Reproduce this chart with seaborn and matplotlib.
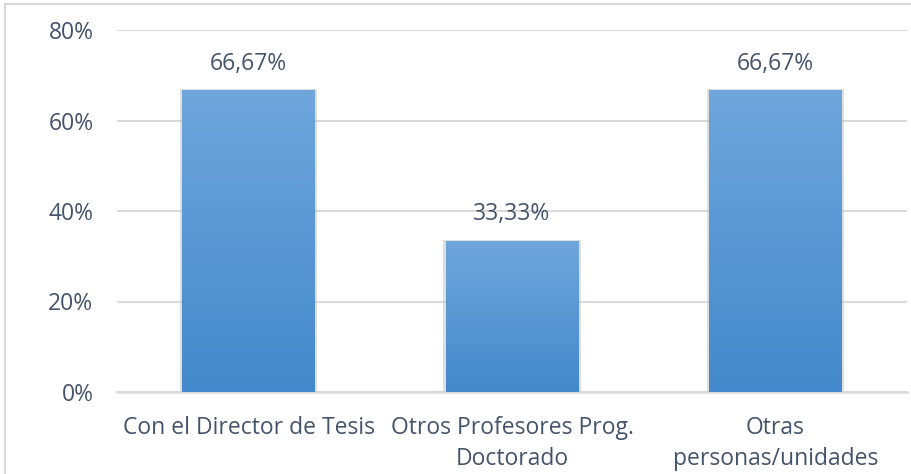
import numpy as np
import pandas as pd
import matplotlib
matplotlib.use('Agg')
import matplotlib.pyplot as plt
import seaborn as sns
from matplotlib.patches import Rectangle

categorias = ['Con el Director de Tesis', 'Otros Profesores Prog.\nDoctorado', 'Otras\npersonas/unidades']
valores = [66.67, 33.33, 66.67]
etiquetas = ['66,67%', '33,33%', '66,67%']
ticks_y = [0, 20, 40, 60, 80]

sns.set_theme(style='white')
plt.rcParams['font.family'] = ['Open Sans', 'DejaVu Sans']
texto = '#44546A'

df = pd.DataFrame({'categoria': categorias, 'valor': valores})

fig = plt.figure(figsize=(9.11, 4.74), dpi=100)
ax = fig.add_axes([117 / 911, 82 / 474, 790 / 911, 362 / 474])

sns.barplot(data=df, x='categoria', y='valor', color='#5B9BD5', width=0.505,
            saturation=1, ax=ax, zorder=3, linewidth=0)

ax.set_ylim(0, 80)
ax.set_xlim(-0.5, 2.5)
ax.set_yticks(ticks_y)
ax.set_yticklabels([f'{t}%' for t in ticks_y])
ax.grid(axis='y', color='#D9D9D9', linewidth=1.5, zorder=0)
for s in ['top', 'right', 'left']:
    ax.spines[s].set_visible(False)
ax.spines['bottom'].set_color('#D9D9D9')
ax.spines['bottom'].set_linewidth(1.8)
ax.set_xlabel('')
ax.set_ylabel('')
ax.tick_params(axis='y', length=0, pad=17, labelsize=16.5, labelcolor=texto)
ax.tick_params(axis='x', length=0, pad=17, labelsize=16.5, labelcolor=texto)
for lbl in ax.get_xticklabels():
    lbl.set_linespacing(1.4)

# degradado de las barras
grad = np.linspace(0, 1, 256).reshape(-1, 1)
cmap = matplotlib.colors.LinearSegmentedColormap.from_list('g', ['#4389CB', '#6FA6DC'])
for p, lab in zip(ax.patches, etiquetas):
    x0, y0 = p.get_x(), p.get_y()
    w, h = p.get_width(), p.get_height()
    # sombra
    ax.add_patch(Rectangle((x0 - 0.008, y0), w + 0.016, h + 0.25, color='#BFBFBF',
                           alpha=0.5, zorder=2, lw=0))
    im = ax.imshow(grad, extent=[x0, x0 + w, y0, y0 + h], origin='lower',
                   aspect='auto', cmap=cmap, zorder=4)
    im.set_clip_path(p)
    ax.text(x0 + w / 2, h + 5.9, lab, ha='center', va='center', fontsize=16.5,
            color=texto, zorder=5)

ax.set_xlim(-0.5, 2.5)
ax.set_ylim(0, 80)

# borde del gráfico
fig.patches.append(Rectangle((5 / 911, -0.1), 1.2, (474 - 4) / 474 + 0.1,
                             transform=fig.transFigure, fill=False,
                             edgecolor='#D9D9D9', linewidth=1.5))

fig.savefig('out.png', dpi=100)
